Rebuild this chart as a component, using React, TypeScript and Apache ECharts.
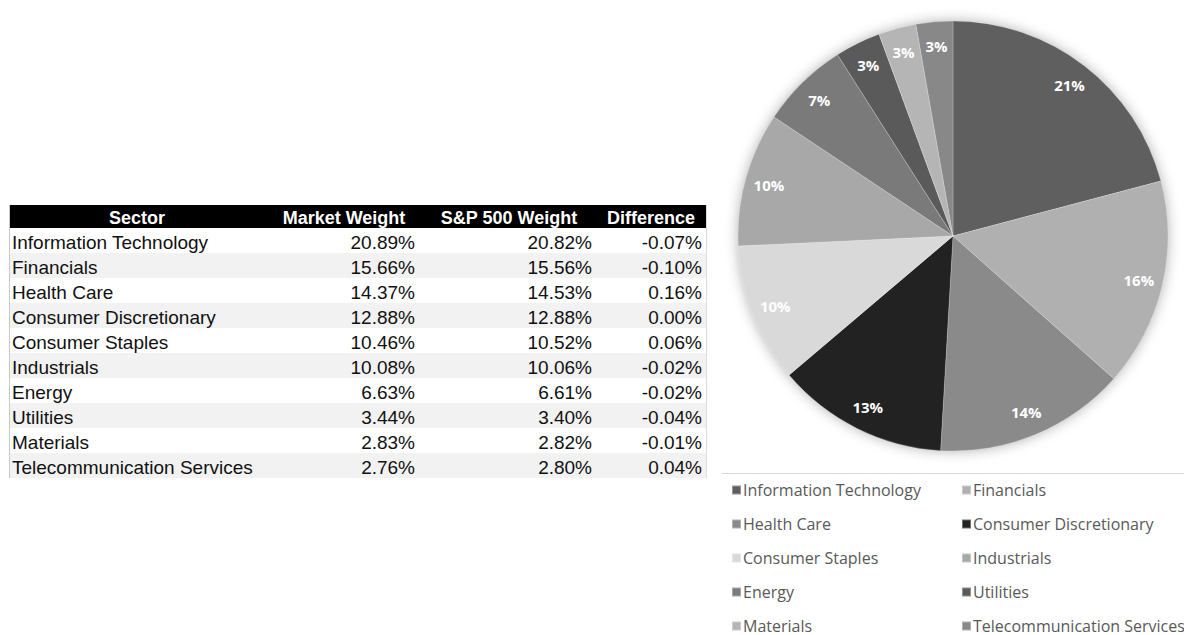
import React, { useEffect, useRef } from "react";
import * as echarts from "echarts";

const sectors = [
  "Information Technology",
  "Financials",
  "Health Care",
  "Consumer Discretionary",
  "Consumer Staples",
  "Industrials",
  "Energy",
  "Utilities",
  "Materials",
  "Telecommunication Services",
];
const marketWeight = [20.89, 15.66, 14.37, 12.88, 10.46, 10.08, 6.63, 3.44, 2.83, 2.76];
const spWeight = [20.82, 15.56, 14.53, 12.88, 10.52, 10.06, 6.61, 3.4, 2.82, 2.8];
const difference = [-0.07, -0.1, 0.16, 0.0, 0.06, -0.02, -0.02, -0.04, -0.01, 0.04];
const headers = ["Sector", "Market Weight", "S&P 500 Weight", "Difference"];
const sliceColors = ["#5f5f5f", "#b0b0b0", "#8a8a8a", "#222222", "#d9d9d9", "#a8a8a8", "#7a7a7a", "#5a5a5a", "#b5b5b5", "#888888"];

const pct = (v: number) => v.toFixed(2) + "%";

export default function App() {
  const ref = useRef<HTMLDivElement>(null);
  useEffect(() => {
    if (!ref.current) return;
    const chart = echarts.init(ref.current, null, { renderer: "svg" });

    const tableLeft = 9;
    const tableRight = 706;
    const headerTop = 205;
    const headerH = 23;
    const rowH = 25;
    const rowsTop = headerTop + headerH;
    const tableFont = "Liberation Sans, Arial, sans-serif";
    const headerCenters = [137, 344, 509, 651];
    const valueRights = [415, 592, 702];

    const g: any[] = [];
    g.push({
      type: "rect",
      shape: { x: tableLeft, y: headerTop, width: tableRight - tableLeft, height: headerH },
      style: { fill: "#000" },
    });
    headers.forEach((h, i) => {
      g.push({
        type: "text",
        x: headerCenters[i],
        y: headerTop + headerH / 2 + 1,
        style: {
          text: h,
          fill: "#fff",
          font: `bold 18px ${tableFont}`,
          textAlign: "center",
          textVerticalAlign: "middle",
        },
      });
    });
    sectors.forEach((s, i) => {
      const y = rowsTop + i * rowH;
      if (i % 2 === 1) {
        g.push({
          type: "rect",
          shape: { x: tableLeft, y, width: tableRight - tableLeft, height: rowH },
          style: { fill: "#f2f2f2" },
        });
      }
      const cy = y + rowH / 2 + 2;
      g.push({
        type: "text",
        x: 12,
        y: cy,
        style: { text: s, fill: "#111", font: `19px ${tableFont}`, textAlign: "left", textVerticalAlign: "middle" },
      });
      [marketWeight[i], spWeight[i], difference[i]].forEach((v, j) => {
        g.push({
          type: "text",
          x: valueRights[j],
          y: cy,
          style: { text: pct(v), fill: "#111", font: `19px ${tableFont}`, textAlign: "right", textVerticalAlign: "middle" },
        });
      });
    });
    const tableBottom = rowsTop + sectors.length * rowH;
    g.push({
      type: "line",
      shape: { x1: tableLeft + 0.5, y1: headerTop, x2: tableLeft + 0.5, y2: tableBottom },
      style: { stroke: "#c8c8c8", lineWidth: 1 },
    });
    g.push({
      type: "line",
      shape: { x1: tableRight + 0.5, y1: headerTop, x2: tableRight + 0.5, y2: tableBottom },
      style: { stroke: "#dcdcdc", lineWidth: 1 },
    });
    // pie shadow disk
    g.push({
      type: "circle",
      z: 0,
      shape: { cx: 953, cy: 236, r: 214 },
      style: { fill: "#ffffff", shadowBlur: 14, shadowColor: "rgba(0,0,0,0.35)" },
    });
    // legend separator line
    g.push({
      type: "line",
      shape: { x1: 722, y1: 473.5, x2: 1184, y2: 473.5 },
      style: { stroke: "#d9d9d9", lineWidth: 1 },
    });

    const pieData = sectors.map((s, i) => ({
      name: s,
      value: marketWeight[i],
      itemStyle: { color: sliceColors[i] },
    }));
    const total = marketWeight.reduce((a, b) => a + b, 0);

    const legendFont = "Open Sans, Noto Sans, sans-serif";
    const legendCommon = {
      orient: "vertical" as const,
      top: 477,
      height: 220,
      icon: "rect",
      itemWidth: 9,
      itemHeight: 9,
      itemGap: 18,
      selectedMode: false,
      textStyle: { color: "#595959", fontSize: 16, fontFamily: legendFont, lineHeight: 16, padding: [0, 0, 0, -3] },
    };

    chart.setOption({
      animation: false,
      graphic: g,
      legend: [
        { ...legendCommon, left: 726, data: sectors.filter((_, i) => i % 2 === 0) },
        { ...legendCommon, left: 956, data: sectors.filter((_, i) => i % 2 === 1) },
      ],
      series: [
        {
          type: "pie",
          center: [953, 236],
          radius: [0, 215],
          startAngle: 90,
          clockwise: true,
          data: pieData,
          label: { show: false },
          labelLine: { show: false },
          itemStyle: { borderColor: "rgba(255,255,255,0.35)", borderWidth: 0.6 },
          emphasis: { disabled: true },
          silent: true,
        },
        {
          type: "pie",
          center: [953, 236],
          radius: [161, 215],
          startAngle: 90,
          clockwise: true,
          data: sectors.map((s, i) => ({ name: s, value: marketWeight[i] })),
          itemStyle: { color: "rgba(0,0,0,0)" },
          label: {
            show: true,
            position: "inside",
            formatter: (p: any) => Math.round((p.value / total) * 100) + "%",
            color: "#fff",
            fontWeight: "bold",
            fontSize: 15,
            fontFamily: legendFont,
          },
          labelLine: { show: false },
          emphasis: { disabled: true },
          silent: true,
        },
      ],
    });
    return () => chart.dispose();
  }, []);
  return <div ref={ref} style={{ position: "fixed", left: 0, top: 0, width: 1184, height: 635, background: "#fff" }} />;
}
